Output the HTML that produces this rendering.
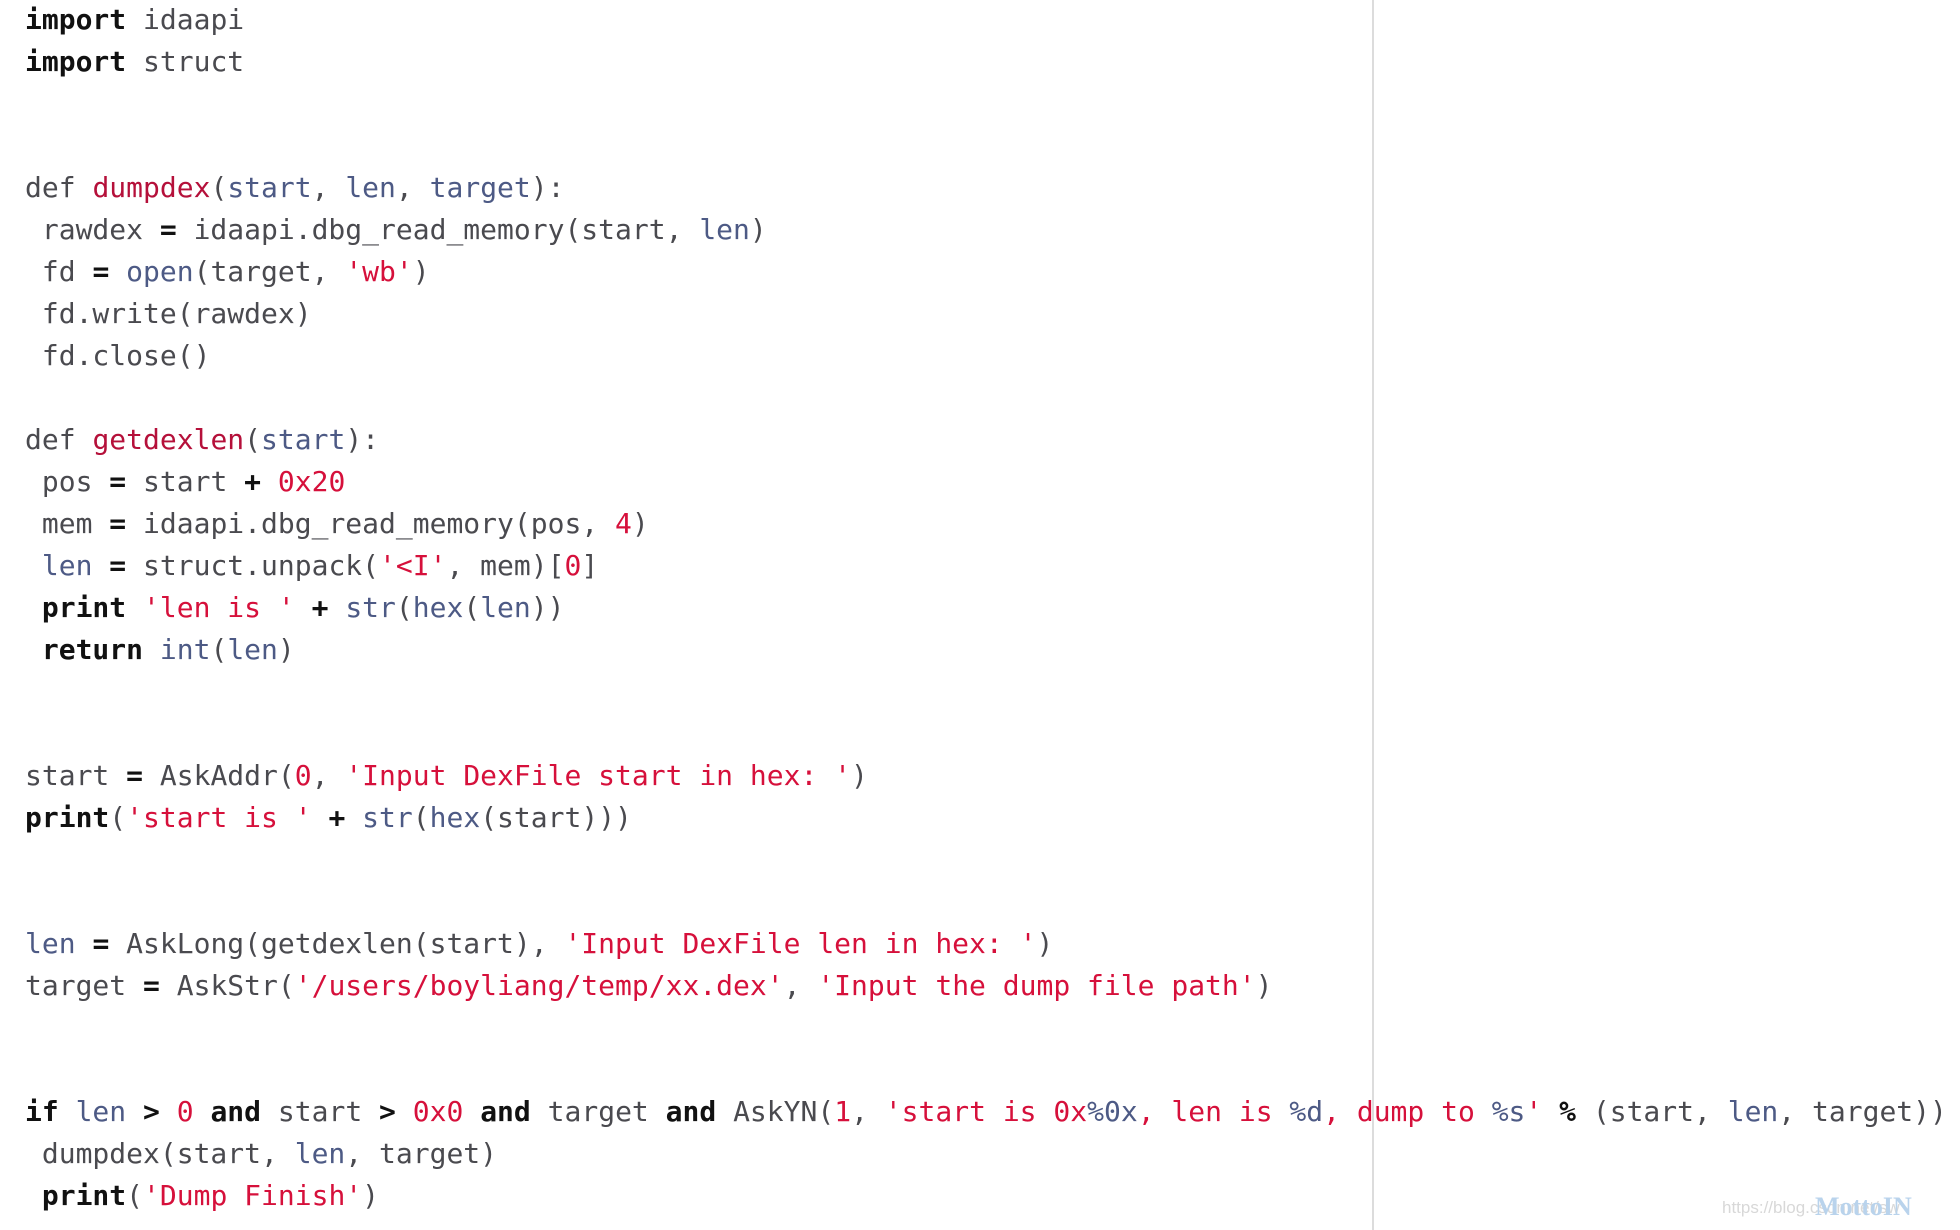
<!DOCTYPE html>
<html><head><meta charset="utf-8"><style>
html,body{margin:0;padding:0;background:#fff;width:1960px;height:1230px;overflow:hidden;position:relative}
pre{margin:0;position:absolute;left:25px;top:-1px;font-family:"DejaVu Sans Mono","Liberation Mono",monospace;font-size:28px;line-height:42px;color:#4a4a4f}
b{color:#111;font-weight:bold}
.s{color:#d6103b}
.p{color:#4d5a85}
.f{color:#b5103a}
.vl{position:absolute;left:1372px;top:0;width:2px;height:1230px;background:#dcdcdc}
.wm{position:absolute;left:1722px;top:1198px;font-family:"Liberation Sans",sans-serif;font-size:17px;color:#d8d8d8}
.wm2{position:absolute;left:1815px;top:1192px;font-family:"Liberation Serif",serif;font-size:26px;font-weight:bold;color:#b9d3ec}
</style></head><body>
<div class="vl"></div>
<pre><b>import</b> idaapi
<b>import</b> struct


def <span class="f">dumpdex</span>(<span class="p">start</span>, <span class="p">len</span>, <span class="p">target</span>):
 rawdex <b>=</b> idaapi.dbg_read_memory(start, <span class="p">len</span>)
 fd <b>=</b> <span class="p">open</span>(target, <span class="s">'wb'</span>)
 fd.write(rawdex)
 fd.close()

def <span class="f">getdexlen</span>(<span class="p">start</span>):
 pos <b>=</b> start <b>+</b> <span class="s">0x20</span>
 mem <b>=</b> idaapi.dbg_read_memory(pos, <span class="s">4</span>)
 <span class="p">len</span> <b>=</b> struct.unpack(<span class="s">'&lt;I'</span>, mem)[<span class="s">0</span>]
 <b>print</b> <span class="s">'len is '</span> <b>+</b> <span class="p">str</span>(<span class="p">hex</span>(<span class="p">len</span>))
 <b>return</b> <span class="p">int</span>(<span class="p">len</span>)


start <b>=</b> AskAddr(<span class="s">0</span>, <span class="s">'Input DexFile start in hex: '</span>)
<b>print</b>(<span class="s">'start is '</span> <b>+</b> <span class="p">str</span>(<span class="p">hex</span>(start)))


<span class="p">len</span> <b>=</b> AskLong(getdexlen(start), <span class="s">'Input DexFile len in hex: '</span>)
target <b>=</b> AskStr(<span class="s">'/users/boyliang/temp/xx.dex'</span>, <span class="s">'Input the dump file path'</span>)


<b>if</b> <span class="p">len</span> <b>&gt;</b> <span class="s">0</span> <b>and</b> start <b>&gt;</b> <span class="s">0x0</span> <b>and</b> target <b>and</b> AskYN(<span class="s">1</span>, <span class="s">'start is 0x</span><span class="p">%0x</span><span class="s">, len is </span><span class="p">%d</span><span class="s">, dump to </span><span class="p">%s</span><span class="s">'</span> <b>%</b> (start, <span class="p">len</span>, target))
 dumpdex(start, <span class="p">len</span>, target)
 <b>print</b>(<span class="s">'Dump Finish'</span>)
</pre>
<div class="wm">https://blog.csdn.net/sw</div>
<div class="wm2">MottoIN</div>
</body></html>
